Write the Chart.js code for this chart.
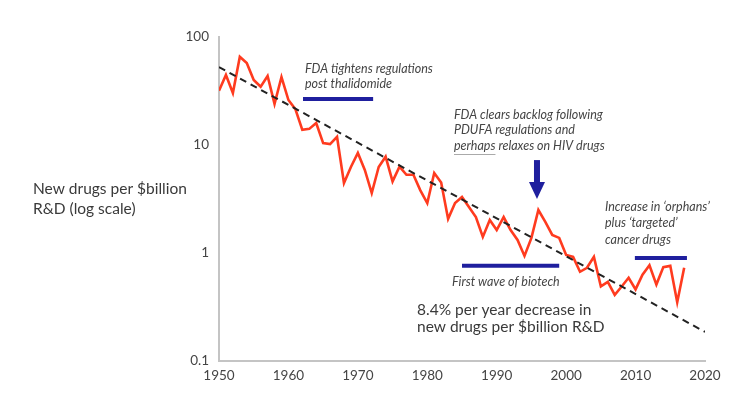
<!DOCTYPE html>
<html>
<head>
<meta charset="utf-8">
<script src="https://cdn.jsdelivr.net/npm/chart.js@4.4.0/dist/chart.umd.min.js"></script>
<style>
  body { margin: 0; background: #fff; }
  canvas { display: block; }
</style>
</head>
<body>
<canvas id="chart" width="738" height="395"></canvas>
<script>
const years = [
  1950, 1951, 1952, 1953, 1954, 1955, 1956, 1957, 1958, 1959,
  1960, 1961, 1962, 1963, 1964, 1965, 1966, 1967, 1968, 1969,
  1970, 1971, 1972, 1973, 1974, 1975, 1976, 1977, 1978, 1979,
  1980, 1981, 1982, 1983, 1984, 1985, 1986, 1987, 1988, 1989,
  1990, 1991, 1992, 1993, 1994, 1995, 1996, 1997, 1998, 1999,
  2000, 2001, 2002, 2003, 2004, 2005, 2006, 2007, 2008, 2009,
  2010, 2011, 2012, 2013, 2014, 2015, 2016, 2017,
];
const drugsPerBillion = [
  31.8, 44.5, 30.3, 65.7, 57.4, 40, 34.7, 43.5, 24, 42.6,
  26.1, 21.5, 13.8, 14.1, 16, 10.4, 10.2, 11.9, 4.45, 6.26,
  8.43, 5.87, 3.59, 6.26, 7.8, 4.6, 6.3, 5.3, 5.3, 3.8,
  2.9, 5.5, 4.5, 2.07, 2.9, 3.3, 2.67, 2.15, 1.41, 2.02,
  1.63, 2.15, 1.63, 1.32, 0.94, 1.38, 2.5, 1.94, 1.47, 1.38,
  0.96, 0.92, 0.67, 0.73, 0.92, 0.49, 0.54, 0.41, 0.49, 0.59,
  0.46, 0.63, 0.77, 0.51, 0.74, 0.76, 0.35, 0.73,
];

// trend line: 8.4% per year decrease
const trendYears = [1950, 2020];
const trendValues = [52.7, 0.186];

// blue period bars: [from, to, level]
const periodBars = [
  [1962.1, 1972.2, 26.6],
  [1985.0, 1999.0, 0.76],
  [2009.9, 2017.4, 0.9],
];

// arrow at PDUFA: year, shaft top, head base, tip
const arrowAt = [1995.8, 7.25, 4.54, 3.16];

const yTicks = [0.1, 1, 10, 100];
const xTicks = [1950, 1960, 1970, 1980, 1990, 2000, 2010, 2020];

const RED = "#ff3b1f";
const NAVY = "#1f1f9e";
const TEXT = "#454545";

const datasets = [
  {
    data: trendYears.map((x, i) => ({ x, y: trendValues[i] })),
    borderColor: "#222",
    borderWidth: 2,
    borderDash: [7, 5],
    pointRadius: 0,
  },
  {
    data: years.map((x, i) => ({ x, y: drugsPerBillion[i] })),
    borderColor: RED,
    borderWidth: 2.6,
    pointRadius: 0,
    tension: 0,
  },
];
periodBars.forEach((b) => {
  datasets.push({
    data: [{ x: b[0], y: b[2] }, { x: b[1], y: b[2] }],
    borderColor: NAVY,
    borderWidth: 4,
    borderCapStyle: "butt",
    pointRadius: 0,
  });
});

const notes = {
  id: "notes",
  afterDatasetsDraw(chart) {
    const ctx = chart.ctx;
    const xs = chart.scales.x;
    const ys = chart.scales.y;

    // arrow
    const ax = xs.getPixelForValue(arrowAt[0]);
    const top = ys.getPixelForValue(arrowAt[1]);
    const base = ys.getPixelForValue(arrowAt[2]);
    const tip = ys.getPixelForValue(arrowAt[3]);
    ctx.save();
    ctx.fillStyle = NAVY;
    ctx.fillRect(ax - 3, top, 6, base - top + 1);
    ctx.beginPath();
    ctx.moveTo(ax - 8, base);
    ctx.lineTo(ax + 8, base);
    ctx.lineTo(ax, tip);
    ctx.closePath();
    ctx.fill();

    ctx.textBaseline = "middle";
    ctx.textAlign = "left";
    ctx.fillStyle = TEXT;

    ctx.font = "italic 12.5px Lato";
    ctx.fillText("FDA tightens regulations", 305, 69);
    ctx.fillText("post thalidomide", 305, 84);

    ctx.fillText("FDA clears backlog following", 454, 115);
    ctx.fillText("PDUFA regulations and", 454, 130);
    ctx.fillText("perhaps relaxes on HIV drugs", 454, 146);
    const w = ctx.measureText("perhaps").width;
    ctx.strokeStyle = "#aaa";
    ctx.lineWidth = 1;
    ctx.beginPath();
    ctx.moveTo(454, 154.5);
    ctx.lineTo(454 + w, 154.5);
    ctx.stroke();

    ctx.fillText("Increase in \u2018orphans\u2019", 605, 207);
    ctx.fillText("plus \u2018targeted\u2019", 605, 223);
    ctx.fillText("cancer drugs", 605, 240);

    ctx.fillText("First wave of biotech", 452, 282);

    ctx.font = "15.5px Lato";
    ctx.fillStyle = "#3a3a3a";
    ctx.fillText("8.4% per year decrease in", 417, 310);
    ctx.fillText("new drugs per $billion R&D", 417, 327);

    ctx.fillText("New drugs per $billion", 33, 189);
    ctx.fillText("R&D (log scale)", 33, 209);
    ctx.restore();
  },
};

new Chart(document.getElementById("chart"), {
  type: "line",
  data: { datasets },
  options: {
    responsive: false,
    animation: false,
    layout: { padding: { top: 37, right: 33, bottom: 0, left: 0 } },
    plugins: { legend: { display: false }, tooltip: { enabled: false } },
    scales: {
      x: {
        type: "linear",
        min: 1950,
        max: 2020,
        afterBuildTicks: (s) => { s.ticks = xTicks.map((v) => ({ value: v })); },
        afterFit: (s) => { s.height = 34; },
        grid: { display: false, drawTicks: false },
        border: { display: true, color: "#c4c4c4", width: 2 },
        ticks: {
          padding: 7,
          color: TEXT,
          font: { family: "Lato", size: 13.5 },
          callback: (v) => String(v),
        },
      },
      y: {
        type: "logarithmic",
        min: 0.1,
        max: 100,
        afterBuildTicks: (s) => { s.ticks = yTicks.map((v) => ({ value: v })); },
        afterFit: (s) => { s.width = 219; },
        grid: { display: false, drawTicks: false },
        border: { display: true, color: "#c4c4c4", width: 2 },
        ticks: {
          padding: 10,
          color: TEXT,
          font: { family: "Lato", size: 13.5 },
          callback: (v) => String(v),
        },
      },
    },
  },
  plugins: [notes],
});
</script>
</body>
</html>
